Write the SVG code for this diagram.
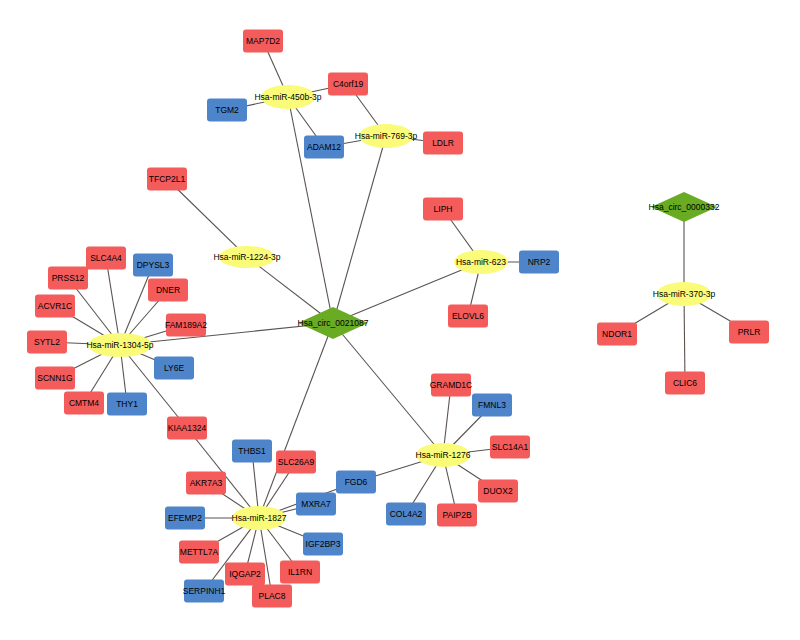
<svg xmlns="http://www.w3.org/2000/svg" width="800" height="640" viewBox="0 0 800 640">
<style>
.e{stroke:#5a5350;stroke-width:1.1;fill:none}
.r{fill:#f45b5b}
.b{fill:#4e84c9}
.m{fill:#fbfb7a}
.c{fill:#6aab24}
text{font-family:"Liberation Sans",Arial,sans-serif;font-size:8.5px;fill:#000;text-anchor:middle;dominant-baseline:central}
</style>
<rect width="800" height="640" fill="#fff"/>
<g id="connectors">
<line class="e" x1="288" y1="97" x2="263" y2="41"/>
<line class="e" x1="288" y1="97" x2="348" y2="84"/>
<line class="e" x1="288" y1="97" x2="227" y2="110"/>
<line class="e" x1="288" y1="97" x2="324" y2="147"/>
<line class="e" x1="288" y1="97" x2="333" y2="323"/>
<line class="e" x1="386" y1="136" x2="348" y2="84"/>
<line class="e" x1="386" y1="136" x2="324" y2="147"/>
<line class="e" x1="386" y1="136" x2="443" y2="143"/>
<line class="e" x1="386" y1="136" x2="333" y2="323"/>
<line class="e" x1="247" y1="257" x2="167" y2="179"/>
<line class="e" x1="247" y1="257" x2="333" y2="323"/>
<line class="e" x1="481" y1="262" x2="443" y2="209"/>
<line class="e" x1="481" y1="262" x2="539" y2="262"/>
<line class="e" x1="481" y1="262" x2="468" y2="316"/>
<line class="e" x1="481" y1="262" x2="333" y2="323"/>
<line class="e" x1="120" y1="345" x2="106" y2="258"/>
<line class="e" x1="120" y1="345" x2="153" y2="265"/>
<line class="e" x1="120" y1="345" x2="68" y2="278"/>
<line class="e" x1="120" y1="345" x2="168" y2="290"/>
<line class="e" x1="120" y1="345" x2="55" y2="306"/>
<line class="e" x1="120" y1="345" x2="186" y2="325"/>
<line class="e" x1="120" y1="345" x2="47" y2="342"/>
<line class="e" x1="120" y1="345" x2="174" y2="368"/>
<line class="e" x1="120" y1="345" x2="55" y2="378"/>
<line class="e" x1="120" y1="345" x2="84" y2="403"/>
<line class="e" x1="120" y1="345" x2="127" y2="404"/>
<line class="e" x1="120" y1="345" x2="187" y2="428"/>
<line class="e" x1="120" y1="345" x2="333" y2="323"/>
<line class="e" x1="259" y1="518" x2="187" y2="428"/>
<line class="e" x1="259" y1="518" x2="252" y2="451"/>
<line class="e" x1="259" y1="518" x2="296" y2="462"/>
<line class="e" x1="259" y1="518" x2="206" y2="483"/>
<line class="e" x1="259" y1="518" x2="356" y2="482"/>
<line class="e" x1="259" y1="518" x2="316" y2="504"/>
<line class="e" x1="259" y1="518" x2="185" y2="518"/>
<line class="e" x1="259" y1="518" x2="323" y2="544"/>
<line class="e" x1="259" y1="518" x2="199" y2="552"/>
<line class="e" x1="259" y1="518" x2="300" y2="572"/>
<line class="e" x1="259" y1="518" x2="245" y2="574"/>
<line class="e" x1="259" y1="518" x2="204" y2="591"/>
<line class="e" x1="259" y1="518" x2="272" y2="596"/>
<line class="e" x1="259" y1="518" x2="333" y2="323"/>
<line class="e" x1="443" y1="455" x2="451" y2="385"/>
<line class="e" x1="443" y1="455" x2="492" y2="405"/>
<line class="e" x1="443" y1="455" x2="510" y2="447"/>
<line class="e" x1="443" y1="455" x2="498" y2="491"/>
<line class="e" x1="443" y1="455" x2="406" y2="514"/>
<line class="e" x1="443" y1="455" x2="457" y2="515"/>
<line class="e" x1="443" y1="455" x2="356" y2="482"/>
<line class="e" x1="443" y1="455" x2="333" y2="323"/>
<line class="e" x1="684" y1="294" x2="684" y2="207"/>
<line class="e" x1="684" y1="294" x2="617" y2="334"/>
<line class="e" x1="684" y1="294" x2="749" y2="332"/>
<line class="e" x1="684" y1="294" x2="685" y2="383"/>
</g>
<g id="circ_0021087"><polygon class="c" points="298,323 333,307 368,323 333,339"/><text x="333" y="323">Hsa_circ_0021087</text></g>
<g id="circ_0000332"><polygon class="c" points="651,207 684,192 717,207 684,222"/><text x="684" y="207">Hsa_circ_0000332</text></g>
<g id="miR-450b-3p"><ellipse class="m" cx="288" cy="97" rx="27" ry="12"/><text x="288" y="97">Hsa-miR-450b-3p</text></g>
<g id="miR-769-3p"><ellipse class="m" cx="386" cy="136" rx="27" ry="12"/><text x="386" y="136">Hsa-miR-769-3p</text></g>
<g id="miR-1224-3p"><ellipse class="m" cx="247" cy="257" rx="28" ry="11"/><text x="247" y="257">Hsa-miR-1224-3p</text></g>
<g id="miR-623"><ellipse class="m" cx="481" cy="262" rx="27" ry="12"/><text x="481" y="262">Hsa-miR-623</text></g>
<g id="miR-1304-5p"><ellipse class="m" cx="120" cy="345" rx="32" ry="12"/><text x="120" y="345">Hsa-miR-1304-5p</text></g>
<g id="miR-1827"><ellipse class="m" cx="259" cy="518" rx="27" ry="12"/><text x="259" y="518">Hsa-miR-1827</text></g>
<g id="miR-1276"><ellipse class="m" cx="443" cy="455" rx="27" ry="12"/><text x="443" y="455">Hsa-miR-1276</text></g>
<g id="miR-370-3p"><ellipse class="m" cx="684" cy="294" rx="27" ry="12"/><text x="684" y="294">Hsa-miR-370-3p</text></g>
<g id="MAP7D2"><rect class="r" x="243" y="29.5" width="40" height="23" rx="3"/><text x="263" y="41">MAP7D2</text></g>
<g id="C4orf19"><rect class="r" x="328" y="72.5" width="40" height="23" rx="3"/><text x="348" y="84">C4orf19</text></g>
<g id="TGM2"><rect class="b" x="207" y="98.5" width="40" height="23" rx="3"/><text x="227" y="110">TGM2</text></g>
<g id="ADAM12"><rect class="b" x="304" y="135.5" width="40" height="23" rx="3"/><text x="324" y="147">ADAM12</text></g>
<g id="LDLR"><rect class="r" x="423" y="131.5" width="40" height="23" rx="3"/><text x="443" y="143">LDLR</text></g>
<g id="TFCP2L1"><rect class="r" x="147" y="167.5" width="40" height="23" rx="3"/><text x="167" y="179">TFCP2L1</text></g>
<g id="SLC4A4"><rect class="r" x="86" y="246.5" width="40" height="23" rx="3"/><text x="106" y="258">SLC4A4</text></g>
<g id="DPYSL3"><rect class="b" x="133" y="253.5" width="40" height="23" rx="3"/><text x="153" y="265">DPYSL3</text></g>
<g id="PRSS12"><rect class="r" x="48" y="266.5" width="40" height="23" rx="3"/><text x="68" y="278">PRSS12</text></g>
<g id="DNER"><rect class="r" x="148" y="278.5" width="40" height="23" rx="3"/><text x="168" y="290">DNER</text></g>
<g id="ACVR1C"><rect class="r" x="35" y="294.5" width="40" height="23" rx="3"/><text x="55" y="306">ACVR1C</text></g>
<g id="FAM189A2"><rect class="r" x="166" y="313.5" width="40" height="23" rx="3"/><text x="186" y="325">FAM189A2</text></g>
<g id="SYTL2"><rect class="r" x="27" y="330.5" width="40" height="23" rx="3"/><text x="47" y="342">SYTL2</text></g>
<g id="LY6E"><rect class="b" x="154" y="356.5" width="40" height="23" rx="3"/><text x="174" y="368">LY6E</text></g>
<g id="SCNN1G"><rect class="r" x="35" y="366.5" width="40" height="23" rx="3"/><text x="55" y="378">SCNN1G</text></g>
<g id="CMTM4"><rect class="r" x="64" y="391.5" width="40" height="23" rx="3"/><text x="84" y="403">CMTM4</text></g>
<g id="THY1"><rect class="b" x="107" y="392.5" width="40" height="23" rx="3"/><text x="127" y="404">THY1</text></g>
<g id="KIAA1324"><rect class="r" x="167" y="416.5" width="40" height="23" rx="3"/><text x="187" y="428">KIAA1324</text></g>
<g id="LIPH"><rect class="r" x="423" y="197.5" width="40" height="23" rx="3"/><text x="443" y="209">LIPH</text></g>
<g id="NRP2"><rect class="b" x="519" y="250.5" width="40" height="23" rx="3"/><text x="539" y="262">NRP2</text></g>
<g id="ELOVL6"><rect class="r" x="448" y="304.5" width="40" height="23" rx="3"/><text x="468" y="316">ELOVL6</text></g>
<g id="NDOR1"><rect class="r" x="597" y="322.5" width="40" height="23" rx="3"/><text x="617" y="334">NDOR1</text></g>
<g id="PRLR"><rect class="r" x="729" y="320.5" width="40" height="23" rx="3"/><text x="749" y="332">PRLR</text></g>
<g id="CLIC6"><rect class="r" x="665" y="371.5" width="40" height="23" rx="3"/><text x="685" y="383">CLIC6</text></g>
<g id="THBS1"><rect class="b" x="232" y="439.5" width="40" height="23" rx="3"/><text x="252" y="451">THBS1</text></g>
<g id="SLC26A9"><rect class="r" x="276" y="450.5" width="40" height="23" rx="3"/><text x="296" y="462">SLC26A9</text></g>
<g id="AKR7A3"><rect class="r" x="186" y="471.5" width="40" height="23" rx="3"/><text x="206" y="483">AKR7A3</text></g>
<g id="FGD6"><rect class="b" x="336" y="470.5" width="40" height="23" rx="3"/><text x="356" y="482">FGD6</text></g>
<g id="MXRA7"><rect class="b" x="296" y="492.5" width="40" height="23" rx="3"/><text x="316" y="504">MXRA7</text></g>
<g id="EFEMP2"><rect class="b" x="165" y="506.5" width="40" height="23" rx="3"/><text x="185" y="518">EFEMP2</text></g>
<g id="IGF2BP3"><rect class="b" x="303" y="532.5" width="40" height="23" rx="3"/><text x="323" y="544">IGF2BP3</text></g>
<g id="METTL7A"><rect class="r" x="179" y="540.5" width="40" height="23" rx="3"/><text x="199" y="552">METTL7A</text></g>
<g id="IL1RN"><rect class="r" x="280" y="560.5" width="40" height="23" rx="3"/><text x="300" y="572">IL1RN</text></g>
<g id="IQGAP2"><rect class="r" x="225" y="562.5" width="40" height="23" rx="3"/><text x="245" y="574">IQGAP2</text></g>
<g id="SERPINH1"><rect class="b" x="184" y="579.5" width="40" height="23" rx="3"/><text x="204" y="591">SERPINH1</text></g>
<g id="PLAC8"><rect class="r" x="252" y="584.5" width="40" height="23" rx="3"/><text x="272" y="596">PLAC8</text></g>
<g id="GRAMD1C"><rect class="r" x="431" y="373.5" width="40" height="23" rx="3"/><text x="451" y="385">GRAMD1C</text></g>
<g id="FMNL3"><rect class="b" x="472" y="393.5" width="40" height="23" rx="3"/><text x="492" y="405">FMNL3</text></g>
<g id="SLC14A1"><rect class="r" x="490" y="435.5" width="40" height="23" rx="3"/><text x="510" y="447">SLC14A1</text></g>
<g id="DUOX2"><rect class="r" x="478" y="479.5" width="40" height="23" rx="3"/><text x="498" y="491">DUOX2</text></g>
<g id="COL4A2"><rect class="b" x="386" y="502.5" width="40" height="23" rx="3"/><text x="406" y="514">COL4A2</text></g>
<g id="PAIP2B"><rect class="r" x="437" y="503.5" width="40" height="23" rx="3"/><text x="457" y="515">PAIP2B</text></g>
</svg>
